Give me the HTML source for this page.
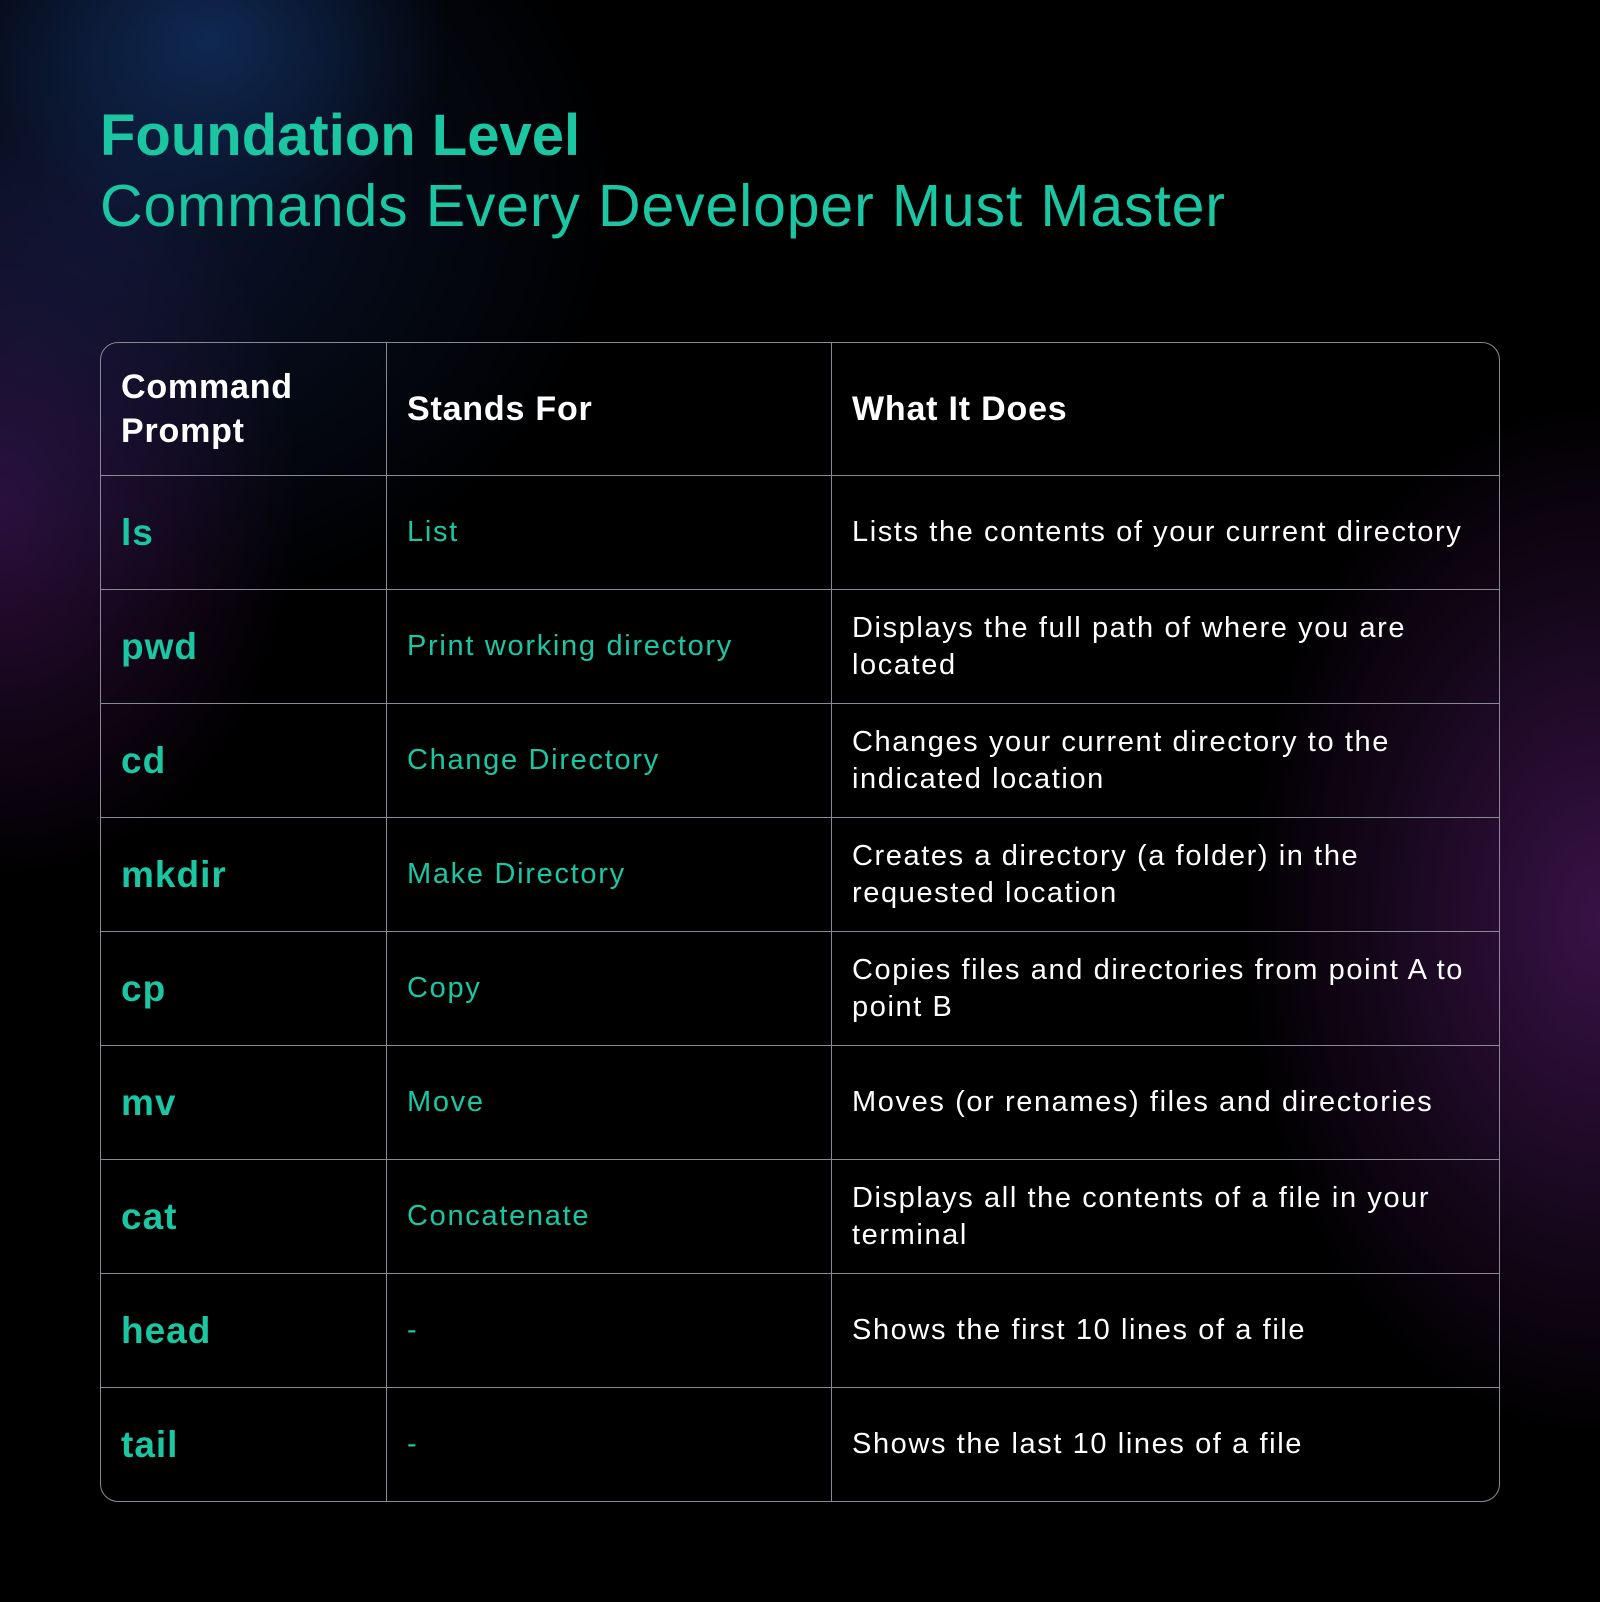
<!DOCTYPE html>
<html><head><meta charset="utf-8"><style>
html,body{margin:0;padding:0}
body{width:1600px;height:1602px;overflow:hidden;position:relative;background:#000;font-family:"Liberation Sans",sans-serif;
background:
radial-gradient(ellipse 240px 190px at 210px 40px, rgba(18,50,100,0.75), rgba(0,0,0,0) 100%),
radial-gradient(ellipse 500px 420px at 120px 200px, rgba(20,35,80,0.6), rgba(0,0,0,0) 100%),
radial-gradient(ellipse 300px 380px at 0px 500px, rgba(70,20,90,0.65), rgba(0,0,0,0) 100%),
radial-gradient(ellipse 360px 520px at 1600px 920px, rgba(80,25,100,0.7), rgba(0,0,0,0) 100%),
#000;}
.t1{position:absolute;left:100px;top:102px;font-size:58px;font-weight:bold;color:#1bc6a2;letter-spacing:0px}
.t2{position:absolute;left:100px;top:172px;font-size:59px;color:#1bc6a2;letter-spacing:0.85px}
table{position:absolute;left:100px;top:342px;width:1400px;border-collapse:separate;border-spacing:0;border:1.5px solid #8a8a96;border-radius:18px;overflow:hidden}
td{border-right:1.5px solid #8a8a96;border-bottom:1.5px solid #8a8a96;padding:0 10px 0 20px;height:113px;vertical-align:middle}
tr td:last-child{border-right:none}
tr:last-child td{border-bottom:none}
tr.h td{height:132px;color:#fff;font-weight:bold;font-size:34px;line-height:44px;letter-spacing:0.8px}
td.c{width:255px;color:#1bc6a2;font-weight:bold;font-size:37px;letter-spacing:1px}
td.s{width:414px;color:#1bc6a2;font-size:29px;letter-spacing:1.7px}
td.d{color:#fff;font-size:29px;line-height:37px;letter-spacing:1.6px}
</style></head><body>
<div class="t1">Foundation Level</div>
<div class="t2">Commands Every Developer Must Master</div>
<table>
<tr class="h"><td class="c" style="color:#fff;font-size:34px">Command<br>Prompt</td><td class="s" style="color:#fff;font-size:34px;font-weight:bold;letter-spacing:0.8px">Stands For</td><td class="d" style="font-size:34px;font-weight:bold;letter-spacing:0.8px">What It Does</td></tr>
<tr><td class="c">ls</td><td class="s">List</td><td class="d">Lists the contents of your current directory</td></tr>
<tr><td class="c">pwd</td><td class="s">Print working directory</td><td class="d">Displays the full path of where you are<br>located</td></tr>
<tr><td class="c">cd</td><td class="s">Change Directory</td><td class="d">Changes your current directory to the<br>indicated location</td></tr>
<tr><td class="c">mkdir</td><td class="s">Make Directory</td><td class="d">Creates a directory (a folder) in the<br>requested location</td></tr>
<tr><td class="c">cp</td><td class="s">Copy</td><td class="d">Copies files and directories from point A to<br>point B</td></tr>
<tr><td class="c">mv</td><td class="s">Move</td><td class="d">Moves (or renames) files and directories</td></tr>
<tr><td class="c">cat</td><td class="s">Concatenate</td><td class="d">Displays all the contents of a file in your<br>terminal</td></tr>
<tr><td class="c">head</td><td class="s">-</td><td class="d">Shows the first 10 lines of a file</td></tr>
<tr><td class="c">tail</td><td class="s">-</td><td class="d">Shows the last 10 lines of a file</td></tr>
</table>
</body></html>
